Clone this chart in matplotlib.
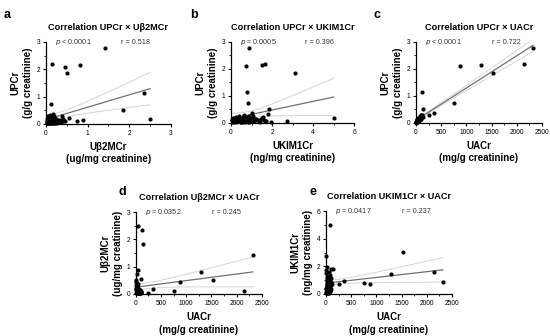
import numpy as np
import matplotlib
matplotlib.use("Agg")
import matplotlib.pyplot as plt
from matplotlib.ticker import AutoMinorLocator

plt.rcParams['font.family'] = ['Liberation Sans', 'DejaVu Sans']

# ---- data (cluster points are estimates) ----
# a: Ub2MCr (x) vs UPCr (y)
a_x = [1.42, 0.15, 0.45, 0.82, 0.50, 2.35, 0.12, 1.85, 2.50, 0.55, 0.75, 0.90,
       0.02, 0.03, 0.04, 0.05, 0.05, 0.06, 0.07, 0.08, 0.08, 0.09, 0.10, 0.10,
       0.11, 0.12, 0.12, 0.13, 0.14, 0.15, 0.15, 0.16, 0.17, 0.18, 0.19, 0.20,
       0.21, 0.22, 0.23, 0.24, 0.25, 0.26, 0.27, 0.28, 0.30, 0.32, 0.34, 0.36,
       0.38, 0.40, 0.42, 0.45, 0.03, 0.06, 0.09, 0.11, 0.14, 0.18, 0.22, 0.05,
       0.07, 0.13, 0.04, 0.08, 0.16, 0.20, 0.02, 0.10, 0.25, 0.35, 0.06, 0.12]
a_y = [2.78, 2.20, 2.10, 2.17, 1.87, 1.15, 0.73, 0.53, 0.17, 0.22, 0.12, 0.15,
       0.05, 0.10, 0.02, 0.20, 0.30, 0.08, 0.12, 0.03, 0.25, 0.15, 0.05, 0.32,
       0.10, 0.18, 0.02, 0.12, 0.06, 0.22, 0.08, 0.14, 0.35, 0.04, 0.10, 0.28,
       0.12, 0.06, 0.20, 0.10, 0.08, 0.15, 0.05, 0.12, 0.10, 0.06, 0.14, 0.08,
       0.30, 0.20, 0.10, 0.12, 0.18, 0.04, 0.07, 0.26, 0.02, 0.16, 0.03, 0.12,
       0.22, 0.05, 0.15, 0.09, 0.11, 0.02, 0.08, 0.14, 0.18, 0.10, 0.04, 0.06]

# b: UKIM1Cr (x) vs UPCr (y)
b_x = [0.90, 0.75, 1.50, 1.65, 3.10, 0.80, 0.85, 1.85, 1.00, 1.80, 5.00, 2.75,
       1.95, 0.05, 0.10, 0.15, 0.20, 0.25, 0.30, 0.35, 0.40, 0.45, 0.50, 0.55,
       0.60, 0.65, 0.70, 0.75, 0.80, 0.85, 0.90, 0.95, 1.00, 1.05, 1.10, 1.20,
       1.30, 1.40, 1.50, 1.55, 1.60, 1.70, 0.08, 0.18, 0.28, 0.38, 0.48, 0.58,
       0.68, 0.78, 0.88, 0.98, 0.12, 0.22, 0.32, 0.42, 0.52, 0.62, 0.72, 0.82,
       1.15, 1.25, 1.65, 0.03, 0.27, 0.47, 0.67, 0.92, 1.45, 0.37, 0.57, 0.77]
b_y = [2.78, 2.10, 2.15, 2.20, 1.87, 1.15, 0.73, 0.53, 0.38, 0.35, 0.20, 0.08,
       0.02, 0.10, 0.05, 0.18, 0.12, 0.22, 0.08, 0.15, 0.25, 0.10, 0.05, 0.20,
       0.12, 0.28, 0.08, 0.15, 0.22, 0.10, 0.05, 0.18, 0.12, 0.25, 0.08, 0.15,
       0.10, 0.05, 0.18, 0.22, 0.12, 0.08, 0.02, 0.14, 0.06, 0.20, 0.10, 0.16,
       0.04, 0.12, 0.26, 0.08, 0.18, 0.03, 0.10, 0.14, 0.06, 0.22, 0.12, 0.04,
       0.15, 0.10, 0.06, 0.12, 0.16, 0.02, 0.20, 0.08, 0.14, 0.10, 0.04, 0.18]

# c: UACr (x) vs UPCr (y)
c_x = [2320, 1290, 870, 2150, 1530, 120, 750, 140, 350, 250, 100, 130,
       5, 10, 15, 20, 25, 30, 35, 40, 45, 50, 55, 60, 65, 70, 75, 80, 85, 90,
       95, 100, 105, 110, 115, 120, 8, 12, 18, 22, 28, 32, 38, 42, 48, 52,
       58, 62, 68, 72, 78, 82, 88, 92, 3, 6, 14, 24, 34, 44, 54, 64, 74, 84,
       94, 104, 16, 26, 36, 46, 56, 66]
c_y = [2.78, 2.15, 2.10, 2.20, 1.87, 1.15, 0.73, 0.53, 0.38, 0.28, 0.30, 0.22,
       0.02, 0.05, 0.08, 0.10, 0.06, 0.12, 0.15, 0.08, 0.18, 0.12, 0.20, 0.10,
       0.15, 0.22, 0.12, 0.18, 0.25, 0.15, 0.20, 0.28, 0.18, 0.22, 0.25, 0.30,
       0.03, 0.06, 0.10, 0.04, 0.14, 0.08, 0.12, 0.16, 0.10, 0.14, 0.18, 0.12,
       0.20, 0.16, 0.14, 0.22, 0.18, 0.20, 0.01, 0.04, 0.07, 0.09, 0.11, 0.13,
       0.15, 0.17, 0.19, 0.21, 0.23, 0.24, 0.05, 0.08, 0.10, 0.12, 0.14, 0.16]

# d: UACr (x) vs Ub2MCr (y)
d_x = [2320, 1290, 870, 1530, 2150, 750, 350, 250, 40, 120, 140, 50, 20, 110,
       5, 10, 15, 20, 25, 30, 35, 40, 45, 50, 55, 60, 65, 70, 75, 80, 85, 90,
       95, 100, 8, 12, 18, 22, 28, 32, 38, 42, 48, 52, 58, 62, 68, 72, 78, 82,
       3, 6, 14, 24, 34, 44, 54, 64, 74, 84, 94, 104, 16, 26, 36, 46, 56, 66,
       9, 19, 29, 39]
d_y = [1.42, 0.80, 0.45, 0.50, 0.12, 0.12, 0.17, 0.05, 2.50, 2.33, 1.83, 0.88,
       0.75, 0.55, 0.05, 0.15, 0.30, 0.40, 0.10, 0.25, 0.35, 0.05, 0.20, 0.12,
       0.08, 0.18, 0.02, 0.10, 0.15, 0.05, 0.12, 0.08, 0.06, 0.10, 0.45, 0.22,
       0.38, 0.12, 0.28, 0.05, 0.18, 0.10, 0.14, 0.06, 0.08, 0.16, 0.04, 0.12,
       0.06, 0.10, 0.20, 0.32, 0.26, 0.14, 0.08, 0.16, 0.04, 0.10, 0.06, 0.02,
       0.05, 0.08, 0.12, 0.20, 0.06, 0.14, 0.03, 0.09, 0.50, 0.24, 0.18, 0.02]

# e: UACr (x) vs UKIM1Cr (y)
e_x = [80, 1530, 2150, 2320, 1290, 870, 750, 350, 250, 10, 20, 90, 140, 60, 120,
       5, 10, 15, 20, 25, 30, 35, 40, 45, 50, 55, 60, 65, 70, 75, 80, 85, 90,
       95, 100, 8, 12, 18, 22, 28, 32, 38, 42, 48, 52, 58, 62, 68, 72, 78, 82,
       3, 6, 14, 24, 34, 44, 54, 64, 74, 84, 94, 104, 16, 26, 36, 46, 56, 66,
       9, 19, 29]
e_y = [5.00, 3.07, 1.60, 0.85, 1.45, 0.70, 0.80, 0.95, 0.72, 2.75, 1.95, 1.80,
       1.80, 1.60, 0.75, 0.10, 0.40, 0.80, 1.20, 0.30, 0.60, 1.00, 0.20, 0.50,
       0.90, 1.30, 0.15, 0.70, 0.40, 1.10, 0.25, 0.55, 0.85, 0.35, 0.65, 1.50,
       0.05, 0.45, 0.75, 1.05, 0.20, 0.60, 0.95, 0.30, 0.70, 0.10, 0.50, 0.80,
       0.25, 0.40, 1.40, 1.70, 0.15, 0.35, 0.55, 0.85, 0.45, 0.65, 0.20, 0.90,
       0.30, 0.75, 1.15, 0.40, 0.60, 0.10, 0.50, 1.25, 0.70, 0.35, 0.95, 0.55]

labels = ["a", "b", "c", "d", "e"]
titles = ["Correlation UPCr \u00d7 U\u03b22MCr", "Correlation UPCr \u00d7 UKIM1Cr",
          "Correlation UPCr \u00d7 UACr", "Correlation U\u03b22MCr \u00d7 UACr",
          "Correlation UKIM1Cr \u00d7 UACr"]
xlabels = ["U\u03b22MCr\n(ug/mg creatinine)", "UKIM1Cr\n(ng/mg creatinine)",
           "UACr\n(mg/g creatinine)", "UACr\n(mg/g creatinine)", "UACr\n(mg/g creatinine)"]
ylabels = ["UPCr\n(g/g creatinine)", "UPCr\n(g/g creatinine)", "UPCr\n(g/g creatinine)",
           "U\u03b22MCr\n(ug/mg creatinine)", "UKIM1Cr\n(ng/mg creatinine)"]
p_texts = ["< 0.0001", "= 0.0005", "< 0.0001", "= 0.0352", "= 0.0417"]
r_texts = ["r = 0.518", "r = 0.396", "r = 0.722", "r = 0.245", "r = 0.237"]
xmaxes = [3, 6, 2500, 2500, 2500]
ymaxes = [3, 3, 3, 3, 6]
xticks = [[0, 1, 2, 3], [0, 2, 4, 6], [0, 500, 1000, 1500, 2000, 2500],
          [0, 500, 1000, 1500, 2000, 2500], [0, 500, 1000, 1500, 2000, 2500]]
yticks = [[0, 1, 2, 3], [0, 1, 2, 3], [0, 1, 2, 3], [0, 1, 2, 3], [0, 2, 4, 6]]
series = [(a_x, a_y), (b_x, b_y), (c_x, c_y), (d_x, d_y), (e_x, e_y)]

# axes rectangles [left, bottom, width, height] in figure fraction
rects = [[0.0836, 0.631, 0.227, 0.244], [0.420, 0.634, 0.224, 0.241],
         [0.7564, 0.634, 0.229, 0.241], [0.247, 0.125, 0.229, 0.244],
         [0.5927, 0.125, 0.229, 0.247]]
label_pos = [(0.006, 0.955), (0.345, 0.955), (0.68, 0.955), (0.215, 0.43), (0.562, 0.43)]

fig = plt.figure(figsize=(5.5, 3.36), dpi=100)

for i in range(5):
    ax = fig.add_axes(rects[i])
    x = np.array(series[i][0], dtype=float)
    y = np.array(series[i][1], dtype=float)

    # linear fit with 95% confidence band
    slope, intercept = np.polyfit(x, y, 1)
    n = len(x)
    xs = np.linspace(x.min(), x.max(), 100)
    yhat = intercept + slope * xs
    resid = y - (intercept + slope * x)
    s = np.sqrt(np.sum(resid ** 2) / (n - 2))
    sxx = np.sum((x - x.mean()) ** 2)
    half = 1.99 * s * np.sqrt(1.0 / n + (xs - x.mean()) ** 2 / sxx)
    ax.plot(xs, yhat + half, color="#d4d4d4", lw=0.7, zorder=1)
    ax.plot(xs, yhat - half, color="#d4d4d4", lw=0.7, zorder=1)
    ax.plot(xs, yhat, color="#707070", lw=0.9, zorder=2)

    ax.scatter(x, y, s=9, color="black", zorder=3, clip_on=False, linewidths=0)

    ax.set_xlim(0, xmaxes[i])
    ax.set_ylim(0, ymaxes[i])
    ax.set_xticks(xticks[i])
    ax.set_yticks(yticks[i])
    ax.xaxis.set_minor_locator(AutoMinorLocator(2))
    ax.yaxis.set_minor_locator(AutoMinorLocator(2))
    ax.tick_params(which="major", labelsize=4.8, width=0.8, length=2.5, pad=1.5)
    ax.tick_params(which="minor", width=0.6, length=1.5)
    for side in ["top", "right"]:
        ax.spines[side].set_visible(False)
    for side in ["left", "bottom"]:
        ax.spines[side].set_linewidth(0.9)

    ax.set_xlabel(xlabels[i], fontsize=7, fontweight="bold", labelpad=4, linespacing=1.3)
    ax.set_ylabel(ylabels[i], fontsize=7, fontweight="bold", labelpad=3, linespacing=1.3)
    ax.set_title(titles[i], fontsize=6.6, fontweight="bold", pad=9)

    ax.text(0.22, 1.0, "$\\it{p}$ " + p_texts[i], transform=ax.transAxes,
            fontsize=5.2, color="#333333", ha="center", va="center")
    ax.text(0.72, 1.0, r_texts[i], transform=ax.transAxes,
            fontsize=5.2, color="#333333", ha="center", va="center")

    fig.text(label_pos[i][0], label_pos[i][1], labels[i], fontsize=9,
             fontweight="bold", ha="left", va="center")

fig.savefig("out.png", dpi=100)
